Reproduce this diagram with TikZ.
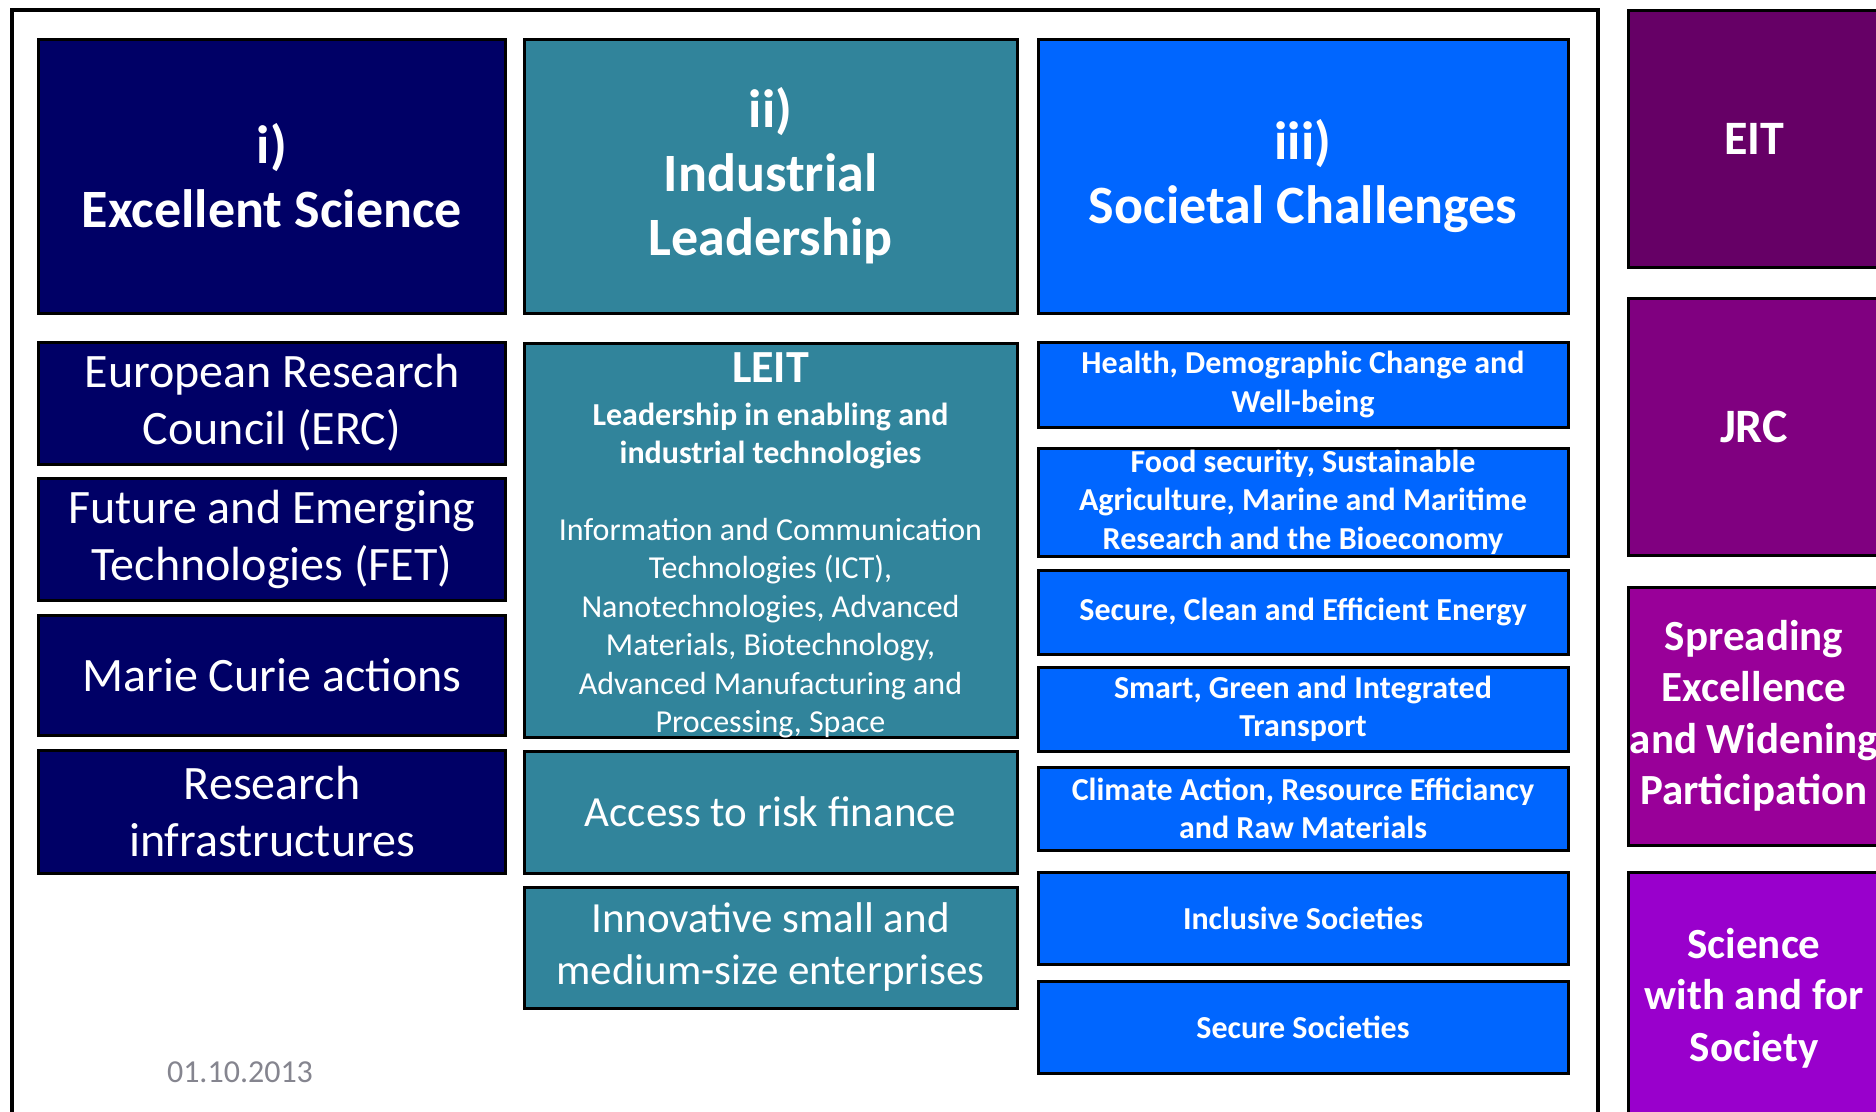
\documentclass[tikz,border=0pt]{standalone}
\usepackage{fontspec}
\setmainfont{Carlito}
\definecolor{colES}{HTML}{000066}
\definecolor{colIL}{HTML}{31849B}
\definecolor{colSC}{HTML}{0066FF}
\definecolor{colEIT}{HTML}{660066}
\definecolor{colJRC}{HTML}{800080}
\definecolor{colSEWP}{HTML}{990099}
\definecolor{colSWFS}{HTML}{9900CC}
\definecolor{colDate}{HTML}{85858F}
\tikzset{
  box/.style={draw=black, line width=3bp, text=white, align=center, inner sep=0pt, outer sep=0pt},
  cA/.style={box, fill=colES, minimum width=466bp},
  cB/.style={box, fill=colIL, minimum width=493bp},
  cC/.style={box, fill=colSC, minimum width=530bp},
  cD/.style={box, minimum width=252bp},
  hdrtxt/.style={font=\fontsize{54bp}{64bp}\selectfont\bfseries},
  esub/.style={font=\fontsize{48bp}{57bp}\selectfont},
  ilsub/.style={font=\fontsize{43bp}{52bp}\selectfont},
  scsub/.style={font=\fontsize{32bp}{38.5bp}\selectfont\bfseries},
  bigpur/.style={font=\fontsize{48bp}{57bp}\selectfont\bfseries},
  pur/.style={font=\fontsize{43bp}{51.5bp}\selectfont\bfseries}
}
\begin{document}
\begin{tikzpicture}[x=1bp,y=-1bp]
\useasboundingbox (0,0) rectangle (1876,1111);
\fill[white] (0,0) rectangle (1876,1111);
\clip (0,0) rectangle (1876,1111);
% outer frame
\draw[line width=3.5bp] (12,10) rectangle (1598,1140);
% headers
\node[cA, minimum height=274bp, hdrtxt] (es) at (272,176) {i)\\Excellent Science};
\node[cB, minimum height=274bp, hdrtxt] (il) at (770.5,176) {ii)\\Industrial\\Leadership};
\node[cC, minimum height=274bp, hdrtxt] (sc) at (1303,176) {iii)\\Societal Challenges};
% column 1
\node[cA, minimum height=122bp, esub] (erc) at (272,403) {European Research\\Council (ERC)};
\node[cA, minimum height=122bp, esub] (fet) at (272,539) {Future and Emerging\\Technologies (FET)};
\node[cA, minimum height=120bp, esub] (mca) at (272,675) {Marie Curie actions};
\node[cA, minimum height=123bp, esub] (ri) at (272,811.5) {Research\\infrastructures};
% column 2
\node[cB, minimum height=394bp] (leit) at (770.5,540) {};
\node[anchor=north, text=white, align=center, text width=490bp, inner sep=0pt] (leittxt) at (770.5,352)
 {\leftskip=0pt plus 1fil\rightskip=0pt plus 1fil\parfillskip=0pt\spaceskip=0pt\xspaceskip=0pt
  {\fontsize{46bp}{46bp}\selectfont\bfseries LEIT\par}
  {\fontsize{32bp}{43bp}\selectfont\bfseries Leadership in enabling and\par}
  {\fontsize{32bp}{38bp}\selectfont\bfseries industrial technologies\par}
  \vspace{38.5bp}
  {\fontsize{32bp}{38.5bp}\selectfont Information and Communication\\Technologies (ICT),\\Nanotechnologies, Advanced\\Materials, Biotechnology,\\Advanced Manufacturing and\\Processing, Space\par}};
\node[cB, minimum height=122bp, ilsub] (arf) at (770.5,812) {Access to risk finance};
\node[cB, minimum height=121bp, ilsub] (sme) at (770.5,947.5) {Innovative small and\\medium-size enterprises};
% column 3
\node[cC, minimum height=85bp, scsub] (health) at (1303,384.5) {Health, Demographic Change and\\Well-being};
\node[cC, minimum height=108bp, scsub] (food) at (1303,502) {Food security, Sustainable\\Agriculture, Marine and Maritime\\Research and the Bioeconomy};
\node[cC, minimum height=84bp, scsub] (energy) at (1303,612) {Secure, Clean and Efficient Energy};
\node[cC, minimum height=84bp, scsub] (transport) at (1303,709) {Smart, Green and Integrated\\Transport};
\node[cC, minimum height=83bp, scsub] (climate) at (1303,808.5) {Climate Action, Resource Efficiancy\\and Raw Materials};
\node[cC, minimum height=92bp, scsub] (inclusive) at (1303,918) {Inclusive Societies};
\node[cC, minimum height=92bp, scsub] (secure) at (1303,1027) {Secure Societies};
% column 4
\node[cD, fill=colEIT, minimum height=257bp, bigpur] (eit) at (1754,138.5) {EIT};
\node[cD, fill=colJRC, minimum height=257bp, bigpur] (jrc) at (1754,426.5) {JRC};
\node[cD, fill=colSEWP, minimum height=258bp, pur] (sewp) at (1754,716) {Spreading\\Excellence\\and Widening\\Participation};
\node[cD, fill=colSWFS, minimum height=252bp, pur] (swfs) at (1754,998) {Science\\with and for\\Society};
% date
\node[font=\fontsize{32bp}{38bp}\selectfont, text=colDate, inner sep=0pt] (date) at (240,1072) {01.10.2013};
\end{tikzpicture}
\end{document}
